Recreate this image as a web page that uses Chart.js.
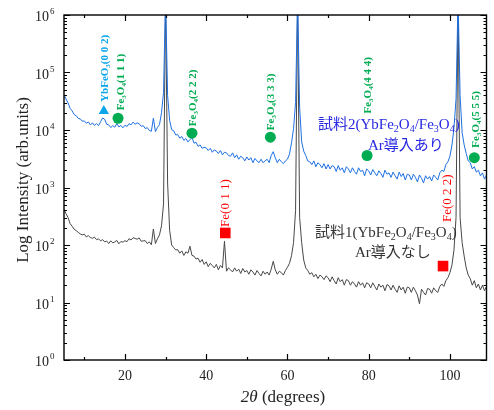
<!DOCTYPE html>
<html>
<head>
<meta charset="utf-8">
<script src="https://cdn.jsdelivr.net/npm/chart.js@4.4.1/dist/chart.umd.min.js"></script>
<style>
  html, body { margin: 0; padding: 0; background: #fff; }
  #wrap { width: 494px; height: 410px; position: relative; }
</style>
</head>
<body>
<div id="wrap"><canvas id="xrd"></canvas></div>
<script>
// XRD scan: 2θ from 5° in 0.5° steps, intensities.
const thetaStart = 5;
const thetaStep = 0.5;

// 試料2 (Ar導入あり) — upper, blue trace
const sample2Intensity = [
  41000, 34500, 29500, 23800, 21500, 18600, 17800, 15900, 15600, 14200,
  14400, 13100, 13800, 12300, 13300, 12000, 12900, 11900, 13900, 16200,
  15400, 12600, 12300, 11000, 11900, 11200, 12900, 11300, 12000, 10900,
  12100, 11500, 12900, 12300, 13700, 12600, 13300, 12800, 11600, 11900,
  10600, 11000, 9800, 9500, 16000, 9400, 11100, 12400, 20000, 45000,
  2000000, 40000, 14800, 10100, 9700, 8200, 8300, 7200, 7700, 6600,
  7100, 6200, 6800, 7400, 5900, 6100, 5200, 5500, 4800, 5000,
  4900, 4400, 4800, 4100, 4500, 4300, 3900, 4400, 3700, 4100,
  4000, 3600, 3500, 4000, 3300, 3700, 3100, 3500, 3300, 2900,
  3400, 3000, 3300, 2700, 3200, 2900, 2700, 3100, 2700, 2900,
  3100, 2700, 3600, 4200, 3300, 2700, 3100, 2800, 2600, 2900,
  3100, 3800, 6000, 10500, 30000, 2000000, 25000, 6200, 4300, 3600,
  2900, 2800, 2500, 2900, 2300, 2700, 2500, 2200, 2600, 2100,
  2500, 2100, 2400, 2300, 1900, 2400, 2000, 2200, 1800, 2300,
  2100, 1800, 2200, 1900, 1700, 2200, 1900, 2000, 1600, 2100,
  1950, 1650, 2050, 1800, 1600, 1950, 1750, 1500, 2000, 1700,
  1800, 1500, 1850, 1600, 1400, 1850, 1550, 1750, 1350, 1700,
  1650, 1350, 1700, 1500, 1250, 1650, 1450, 1200, 1600, 1400,
  1550, 1300, 1650, 1500, 1350, 1800, 2000, 1900, 2500, 2800,
  3500, 5500, 11000, 35000, 2000000, 40000, 9000, 5500, 3900, 2900,
  2700, 2100, 2300, 1850, 2000, 1600, 1800, 1400, 1650
];

// 試料1 (Ar導入なし) — lower, grey trace
const sample1Intensity = [
  420, 350, 300, 235, 212, 188, 178, 166, 156, 150,
  154, 138, 146, 134, 131, 137, 124, 128, 118, 124,
  114, 117, 106, 118, 109, 113, 120, 105, 115, 112,
  119, 114, 129, 122, 134, 130, 126, 133, 116, 118,
  119, 106, 113, 101, 190, 106, 128, 150, 215, 520,
  2000000, 1200, 180, 100, 90, 82, 83, 72, 79, 66,
  76, 72, 95, 66, 64, 57, 59, 50, 56, 46,
  51, 42, 48, 44, 40, 46, 37, 44, 40, 116,
  35, 40, 37, 34, 40, 35, 38, 32, 39, 34,
  36, 31, 37, 34, 30, 36, 32, 29, 35, 31,
  34, 30, 38, 52, 37, 31, 35, 33, 30, 36,
  41, 48, 65, 110, 400, 2000000, 300, 110, 55, 40,
  36, 31, 33, 28, 31, 26, 30, 28, 25, 29,
  27, 23, 28, 24, 21, 27, 23, 25, 20, 25,
  24, 20, 23, 21, 18.5, 23, 20, 22, 18, 22,
  21, 18, 22, 19, 16.5, 21, 18.5, 20, 16, 20.5,
  19.5, 16.5, 20, 17, 15, 19.5, 16.5, 18.5, 14.5, 18.5,
  18, 15, 18.5, 16, 13.5, 9.5, 17, 15, 13.5, 17.5,
  17, 14.5, 18, 16, 15, 19, 21, 19, 24, 27,
  33, 45, 83, 300, 2000000, 300, 110, 64, 40, 30,
  26, 20, 24, 18, 21, 16.5, 20, 16, 19
];

// Peak markers
const ybfeo3Theta = [14.8];
const ybfeo3Intensity = [21500];
const ybfeo3Labels = ["YbFeO_3(0 0 2)"];

const fe3o4Theta = [18.3, 36.5, 55.8, 79.6, 106.0];
const fe3o4Intensity = [16000, 8800, 7500, 3600, 3300];
const fe3o4Labels = ["Fe_3O_4(1 1 1)", "Fe_3O_4(2 2 2)", "Fe_3O_4(3 3 3)", "Fe_3O_4(4 4 4)", "Fe_3O_4(5 5 5)"];

const feTheta = [44.7, 98.3];
const feIntensity = [162, 43];
const feLabels = ["Fe(0 1 1)", "Fe(0 2 2)"];

// Axes
const xMin = 5, xMax = 109;
const xMajorTicks = [20, 40, 60, 80, 100];
const xMinorTicks = [10, 30, 50, 70, 90];
const yDecades = [1, 10, 100, 1000, 10000, 100000, 1000000];

const BLUE = "rgb(30,112,226)";
const GREY = "rgb(72,72,72)";
const GREEN = "rgb(0,172,82)";
const RED = "rgb(255,0,0)";
const SKY = "rgb(10,165,235)";
const SERIF = "'Liberation Serif', 'Times New Roman', 'Noto Sans CJK JP', serif";

// label placement relative to its marker: dx sideways, gap above
const fe3o4LabelPos = [{ dx: 3, gap: 8 }, { dx: 1, gap: 7 }, { dx: 1, gap: 7 }, { dx: 1, gap: 42 }, { dx: 2, gap: 10 }];
const feLabelPos = [{ dx: 0, gap: 6 }, { dx: 5, gap: 44 }];
const ybfeo3LabelPos = [{ dx: 1, gap: 9 }];

const toPoints = (vals) => vals.map((v, i) => ({ x: thetaStart + i * thetaStep, y: v }));
const zipPoints = (xs, ys) => xs.map((x, i) => ({ x, y: ys[i] }));

// draws "Fe_3O_4" style strings, '_' makes the next char a subscript
function drawRich(ctx, str, x, y, size, weight) {
  let cx = x;
  for (let i = 0; i < str.length; i++) {
    let ch = str[i];
    let sub = false;
    if (ch === "_" && i + 1 < str.length) { sub = true; ch = str[++i]; }
    const s = sub ? Math.round(size * 0.68) : size;
    ctx.font = `${weight} ${s}px ${SERIF}`;
    ctx.fillText(ch, cx, sub ? y + size * 0.28 : y);
    cx += ctx.measureText(ch).width;
  }
  return cx - x;
}

function drawPeakLabels(ctx, chart, xs, ys, labels, pos, color, size, weight) {
  const { x: sx, y: sy } = chart.scales;
  ctx.fillStyle = color;
  ctx.textAlign = "left";
  ctx.textBaseline = "middle";
  labels.forEach((txt, i) => {
    const px = sx.getPixelForValue(xs[i]) + pos[i].dx;
    const py = sy.getPixelForValue(ys[i]) - pos[i].gap;
    ctx.save();
    ctx.translate(px, py);
    ctx.rotate(-Math.PI / 2);
    drawRich(ctx, txt, 0, 0, size, weight);
    ctx.restore();
  });
}

const axesPlugin = {
  id: "xrdAxes",
  afterDraw(chart) {
    const { ctx, chartArea: a, scales } = chart;
    const sx = scales.x, sy = scales.y;
    ctx.save();

    // frame
    ctx.strokeStyle = "#000";
    ctx.lineWidth = 1.4;
    ctx.strokeRect(a.left, a.top, a.right - a.left, a.bottom - a.top);

    // inward ticks
    ctx.lineWidth = 1.2;
    ctx.beginPath();
    const xTick = (v, len) => {
      const px = Math.round(sx.getPixelForValue(v)) + 0.5;
      ctx.moveTo(px, a.bottom); ctx.lineTo(px, a.bottom - len);
      ctx.moveTo(px, a.top); ctx.lineTo(px, a.top + len);
    };
    xMajorTicks.forEach((v) => xTick(v, 6));
    xMinorTicks.forEach((v) => xTick(v, 3));
    const yTick = (v, len) => {
      const py = Math.round(sy.getPixelForValue(v)) + 0.5;
      ctx.moveTo(a.left, py); ctx.lineTo(a.left + len, py);
      ctx.moveTo(a.right, py); ctx.lineTo(a.right - len, py);
    };
    yDecades.forEach((d, k) => {
      yTick(d, 6);
      if (k < yDecades.length - 1) for (let m = 2; m <= 9; m++) yTick(d * m, 3);
    });
    ctx.stroke();

    // tick labels
    ctx.fillStyle = "#222";
    ctx.textBaseline = "alphabetic";
    ctx.font = `14px ${SERIF}`;
    ctx.textAlign = "center";
    xMajorTicks.forEach((v) => ctx.fillText(String(v), sx.getPixelForValue(v), a.bottom + 20));
    yDecades.forEach((d) => {
      const py = sy.getPixelForValue(d);
      ctx.font = `14px ${SERIF}`;
      ctx.textAlign = "right";
      ctx.fillText("10", a.left - 15, py + 6);
      ctx.font = `9px ${SERIF}`;
      ctx.textAlign = "left";
      ctx.fillText(String(Math.round(Math.log10(d))), a.left - 14, py - 1);
    });

    // axis titles
    ctx.font = `italic 17px ${SERIF}`;
    const w1 = ctx.measureText("2θ").width;
    ctx.font = `17px ${SERIF}`;
    const w2 = ctx.measureText(" (degrees)").width;
    const tx = 283 - (w1 + w2) / 2;
    ctx.textAlign = "left";
    ctx.font = `italic 17px ${SERIF}`;
    ctx.fillText("2θ", tx, a.bottom + 42);
    ctx.font = `17px ${SERIF}`;
    ctx.fillText(" (degrees)", tx + w1, a.bottom + 42);

    ctx.save();
    ctx.translate(24, 180);
    ctx.rotate(-Math.PI / 2);
    ctx.textAlign = "center";
    ctx.textBaseline = "middle";
    ctx.fillText("Log Intensity (arb.units)", 0, 0);
    ctx.restore();

    // peak labels
    drawPeakLabels(ctx, chart, ybfeo3Theta, ybfeo3Intensity, ybfeo3Labels, ybfeo3LabelPos, SKY, 11, "bold");
    drawPeakLabels(ctx, chart, fe3o4Theta, fe3o4Intensity, fe3o4Labels, fe3o4LabelPos, GREEN, 11, "bold");
    drawPeakLabels(ctx, chart, feTheta, feIntensity, feLabels, feLabelPos, RED, 13, "normal");

    // sample captions
    ctx.textAlign = "left";
    ctx.textBaseline = "middle";
    ctx.fillStyle = "rgb(40,40,225)";
    drawRich(ctx, "試料2(YbFe_2O_4/Fe_3O_4)", 318, 125, 15, "normal");
    drawRich(ctx, "Ar導入あり", 368, 146, 15, "normal");
    ctx.fillStyle = "#333";
    drawRich(ctx, "試料1(YbFe_2O_4/Fe_3O_4)", 315, 233, 15, "normal");
    drawRich(ctx, "Ar導入なし", 355, 253, 15, "normal");

    ctx.restore();
  },
};

new Chart(document.getElementById("xrd"), {
  type: "scatter",
  data: {
    datasets: [
      { data: zipPoints(ybfeo3Theta, ybfeo3Intensity), pointStyle: "triangle", pointRadius: 6,
        backgroundColor: SKY, borderColor: SKY, borderWidth: 0, showLine: false, clip: false },
      { data: zipPoints(fe3o4Theta, fe3o4Intensity), pointStyle: "circle", pointRadius: 5.5,
        backgroundColor: GREEN, borderColor: GREEN, borderWidth: 0, showLine: false, clip: false },
      { data: zipPoints(feTheta, feIntensity), pointStyle: "rect", pointRadius: 7.5,
        backgroundColor: RED, borderColor: RED, borderWidth: 0, showLine: false, clip: false },
      { data: toPoints(sample2Intensity), showLine: true, pointRadius: 0, borderColor: BLUE, borderWidth: 1, tension: 0 },
      { data: toPoints(sample1Intensity), showLine: true, pointRadius: 0, borderColor: GREY, borderWidth: 1, tension: 0 },
    ],
  },
  options: {
    responsive: true,
    maintainAspectRatio: false,
    animation: false,
    events: [],
    layout: { padding: { left: 64, top: 15, right: 5, bottom: 50 } },
    plugins: { legend: { display: false }, tooltip: { enabled: false } },
    scales: {
      x: { type: "linear", min: xMin, max: xMax, display: false },
      y: { type: "logarithmic", min: 1, max: 1000000, display: false },
    },
  },
  plugins: [axesPlugin],
});
</script>
</body>
</html>
